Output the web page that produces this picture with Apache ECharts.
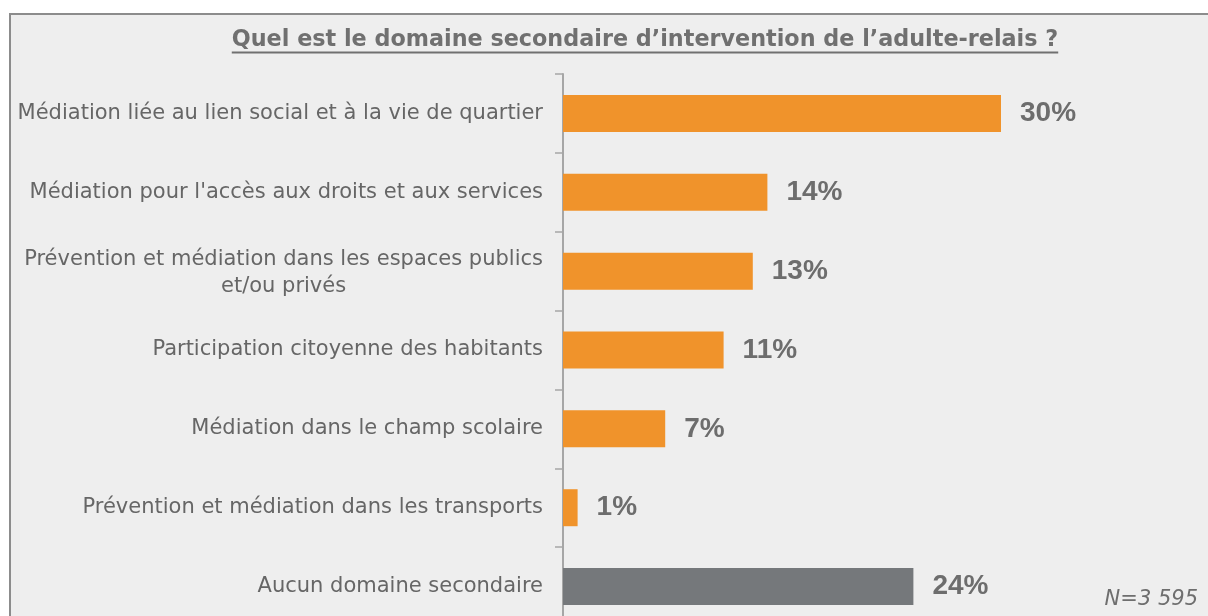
<!DOCTYPE html>
<html>
<head>
<meta charset="utf-8">
<script src="https://cdn.jsdelivr.net/npm/echarts@6/dist/echarts.min.js"></script>
<style>
html,body{margin:0;padding:0;background:#ffffff;}
#chart{width:1208px;height:616px;}
</style>
</head>
<body>
<div id="chart"></div>
<script>
const titleText = "Quel est le domaine secondaire d\u2019intervention de l\u2019adulte-relais ?";
const categories = [
  "Médiation liée au lien social et à la vie de quartier",
  "Médiation pour l'accès aux droits et aux services",
  "Prévention et médiation dans les espaces publics\net/ou privés",
  "Participation citoyenne des habitants",
  "Médiation dans le champ scolaire",
  "Prévention et médiation dans les transports",
  "Aucun domaine secondaire"
];
const values = [30, 14, 13, 11, 7, 1, 24];
const barColors = ["#F0932B", "#F0932B", "#F0932B", "#F0932B", "#F0932B", "#F0932B", "#75787B"];
const noteText = "N=3 595";

const labelFont = '"DejaVu Sans", "Liberation Sans", Arial, sans-serif';
const titleFontSize = 22.3;
const titleFont = 'bold ' + titleFontSize + 'px "DejaVu Sans", "Liberation Sans", Arial, sans-serif';

// measure title width for the underline
const mctx = document.createElement('canvas').getContext('2d');
mctx.font = titleFont;
const titleW = mctx.measureText(titleText).width;
const titleCx = 645;

const chart = echarts.init(document.getElementById('chart'), null, {renderer: 'canvas'});
const option = {
  backgroundColor: '#ffffff',
  animation: false,
  graphic: [
    {type: 'rect', z: -10, shape: {x: 10, y: 14, width: 1300, height: 700},
     style: {fill: '#eeeeee', stroke: '#8c8c8c', lineWidth: 2}},
    {type: 'text', x: titleCx, y: 40,
     style: {text: titleText, font: titleFont, fill: '#707070', textAlign: 'center', textVerticalAlign: 'middle'}},
    {type: 'line', shape: {x1: titleCx - titleW / 2, y1: 52.5, x2: titleCx + titleW / 2, y2: 52.5},
     style: {stroke: '#707070', lineWidth: 2}},
    {type: 'text', x: 1198, y: 600,
     style: {text: noteText, font: 'oblique 21px "DejaVu Sans", "Liberation Sans", Arial, sans-serif', fill: '#6e6e6e', textAlign: 'right', textVerticalAlign: 'middle'}}
  ],
  grid: {left: 563, top: 74, width: 438, height: 552, outerBoundsMode: 'none'},
  xAxis: {type: 'value', min: 0, max: 30, show: false},
  yAxis: {
    type: 'category', data: categories, inverse: true,
    axisLine: {show: true, lineStyle: {color: '#a6a6a6', width: 2}},
    axisTick: {show: true, length: 8, lineStyle: {color: '#a6a6a6', width: 1.5}},
    axisLabel: {
      margin: 20, color: '#666666', fontSize: 21, fontFamily: labelFont,
      formatter: v => v.indexOf('\n') >= 0 ? '{m|' + v.split('\n').join('}\n{m|') + '}' : v,
      rich: {m: {align: 'center', fontSize: 21, color: '#666666', lineHeight: 27, fontFamily: labelFont, padding: [4, 0, 0, 0]}}
    }
  },
  series: [{
    type: 'bar', barWidth: 37,
    data: values.map((v, i) => ({value: v, itemStyle: {color: barColors[i]}})),
    label: {
      show: true, position: 'right', distance: 19, formatter: '{c}%',
      fontSize: 28, fontWeight: 'bold', color: '#6d6d6d', fontFamily: '"Liberation Sans", Arial, sans-serif'
    }
  }]
};
chart.setOption(option);
</script>
</body>
</html>
